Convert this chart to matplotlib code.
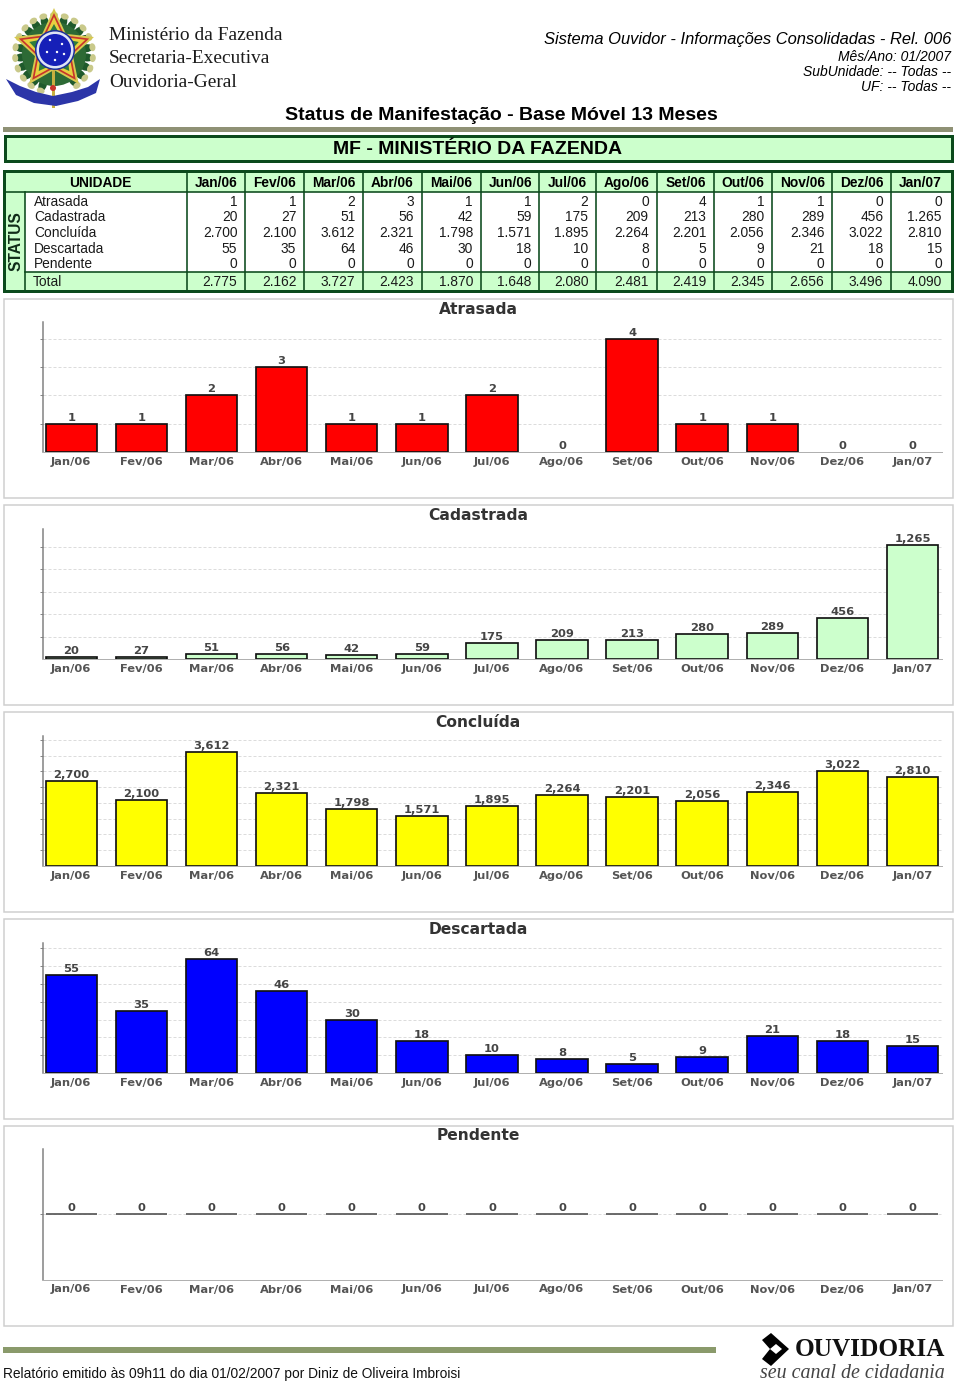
import numpy as np
import matplotlib
matplotlib.use("Agg")
import matplotlib.pyplot as plt
from matplotlib.patches import Rectangle, Polygon, Circle, Ellipse

months = ["Jan/06", "Fev/06", "Mar/06", "Abr/06", "Mai/06", "Jun/06", "Jul/06",
          "Ago/06", "Set/06", "Out/06", "Nov/06", "Dez/06", "Jan/07"]
status_names = ["Atrasada", "Cadastrada", "Concluída", "Descartada", "Pendente"]
atrasada = [1, 1, 2, 3, 1, 1, 2, 0, 4, 1, 1, 0, 0]
cadastrada = [20, 27, 51, 56, 42, 59, 175, 209, 213, 280, 289, 456, 1265]
concluida = [2700, 2100, 3612, 2321, 1798, 1571, 1895, 2264, 2201, 2056, 2346, 3022, 2810]
descartada = [55, 35, 64, 46, 30, 18, 10, 8, 5, 9, 21, 18, 15]
pendente = [0] * 13
totals = [2775, 2162, 3727, 2423, 1870, 1648, 2080, 2481, 2419, 2345, 2656, 3496, 4090]

W, H = 960, 1382
fig = plt.figure(figsize=(W / 100, H / 100), dpi=100, facecolor="white")
bg = fig.add_axes([0, 0, 1, 1])
bg.set_xlim(0, W)
bg.set_ylim(H, 0)
bg.axis("off")

SANS = "Liberation Sans"
SERIF = "Liberation Serif"
GREEN = "#0b4a1c"
LIGHT = "#ccffcc"
px = 0.72  # points per pixel at dpi 100


def T(x, y, s, size, ha="left", **kw):
    kw.setdefault("family", SANS)
    kw.setdefault("color", "black")
    return bg.text(x, y, s, fontsize=size * px, ha=ha, va="center", **kw)


def star(cx, cy, R, r=None, rot=-90):
    r = R * 0.42 if r is None else r
    a = np.radians(rot + np.arange(10) * 36)
    rad = np.where(np.arange(10) % 2 == 0, R, r)
    return np.c_[cx + rad * np.cos(a), cy + rad * np.sin(a)]


# ---------- emblem (decorative) ----------
cx, cy = 54, 50
for ang in np.arange(110, 430, 16):
    a = np.radians(ang)
    for rr, c in ((33, "#1f5a2c"), (39, "#c9c98a")):
        bg.add_patch(Ellipse((cx + rr * np.cos(a), cy + 4 + rr * np.sin(a)), 13 if rr == 33 else 6, 8,
                             angle=ang, color=c, lw=0, zorder=2))
bg.add_patch(Circle((cx, cy + 4), 32, color="#2d6a35", lw=0, zorder=2))
bg.add_patch(Rectangle((52, 60), 3, 48, color="#c8b040", lw=0, zorder=2))
bg.add_patch(Polygon(star(cx, cy, 42, 20), color="#d8c850", lw=0, zorder=3))
bg.add_patch(Polygon(star(cx, cy, 37, 18), color="#c9352a", lw=0, zorder=3))
bg.add_patch(Polygon(star(cx, cy, 33, 16), color="#e8d040", lw=0, zorder=3))
bg.add_patch(Polygon(star(cx, cy, 26, 14), color="#2f7d3b", lw=0, zorder=3))
bg.add_patch(Circle((55, 50), 20, color="#1b2f9a", lw=0, zorder=4))
bg.add_patch(Circle((55, 50), 18.5, color="#dfe4f5", lw=0, zorder=4))
bg.add_patch(Circle((55, 50), 16, color="#1620b8", lw=0, zorder=4))
for sx, sy in ((50, 40), (62, 44), (57, 52), (47, 52), (55, 60), (64, 54)):
    bg.add_patch(Circle((sx, sy), 1.2, color="white", lw=0, zorder=5))
bg.add_patch(Polygon([(6, 79), (20, 86), (36, 92), (53, 96), (72, 92), (88, 87), (100, 79),
                      (96, 93), (78, 101), (56, 106), (34, 103), (16, 95)],
                     color="#2c35a8", lw=0, zorder=5))
bg.add_patch(Circle((53, 88), 3, color="#c9352a", lw=0, zorder=6))

# ---------- heading ----------
for y, s in ((35, "Ministério da Fazenda"), (58, "Secretaria-Executiva"), (82, "Ouvidoria-Geral")):
    T(109, y, s, 19.4, family=SERIF, color="#1c1c1c")
T(951, 39, "Sistema Ouvidor - Informações Consolidadas - Rel. 006", 16.55, ha="right", style="italic")
T(951, 56.7, "Mês/Ano: 01/2007", 13.9, ha="right", style="italic")
T(951, 71.7, "SubUnidade: -- Todas --", 13.9, ha="right", style="italic")
T(951, 87, "UF: -- Todas --", 13.9, ha="right", style="italic")
T(501, 115, "Status de Manifestação - Base Móvel 13 Meses", 19.5, ha="center", weight="bold")
bg.add_patch(Rectangle((3, 127), 950, 5, color="#8f9175", lw=0))
bg.add_patch(Rectangle((4.5, 136), 947, 24.5, fc=LIGHT, ec=GREEN, lw=3 * px))
T(478, 149.5, "MF - MINISTÉRIO DA FAZENDA", 19.5, ha="center", weight="bold")

# ---------- table ----------
seps = [187, 245.3, 304.3, 363.3, 421.7, 481, 539.3, 596.3, 656.7, 714.3, 772.3, 832.3, 891.3, 950]
row_y = [201.7, 217.2, 232.7, 248.7, 264.2]
bg.add_patch(Rectangle((4, 171), 947.5, 120, fc="white", ec="none"))
bg.add_patch(Rectangle((4, 171), 947.5, 21, fc=LIGHT, ec="none"))
bg.add_patch(Rectangle((4, 192), 20.5, 99, fc=LIGHT, ec="none"))
bg.add_patch(Rectangle((24.5, 272), 927, 19, fc=LIGHT, ec="none"))
bg.plot([4, 951.5], [192, 192], color=GREEN, lw=1.6 * px)
bg.plot([24.5, 951.5], [272, 272], color=GREEN, lw=1.6 * px)
bg.plot([24.5, 24.5], [192, 291], color=GREEN, lw=1.6 * px)
for s in seps[:-1]:
    bg.plot([s, s], [171, 291], color=GREEN, lw=1.6 * px)
bg.add_patch(Rectangle((4, 171), 947.5, 120, fc="none", ec=GREEN, lw=3 * px))

T(100, 182.5, "UNIDADE", 13.7, ha="center", weight="bold")
T(16, 241, "STATUS", 15.5, ha="center", weight="bold", rotation=90, color="#102c18")


def fmt(v, sep="."):
    return f"{v:,}".replace(",", sep)


series = [atrasada, cadastrada, concluida, descartada, pendente]
for j, m in enumerate(months):
    T((seps[j] + seps[j + 1]) / 2, 182.5, m, 13.7, ha="center", weight="bold")
    right = seps[j + 1] - 8
    for y, vals in zip(row_y, series):
        T(right, y, fmt(vals[j]), 13.7, ha="right", color="#1a1a1a")
    T(right, 282, fmt(totals[j]), 13.7, ha="right", color="#1a1a1a")
for y, n in zip(row_y, status_names):
    T(34, y, n, 13.7, color="#1a1a1a")
T(32.5, 282, "Total", 13.7, color="#1a1a1a")

# ---------- charts ----------
panels = [
    ("Atrasada", atrasada, "#ff0000", 299, 498, 322, 452, (0, 4.6), [1, 2, 3, 4]),
    ("Cadastrada", cadastrada, "#ccffcc", 505, 705, 529, 659, (0, 1446), [250, 500, 750, 1000, 1250]),
    ("Concluída", concluida, "#ffff00", 712, 912, 736, 866, (0, 4120), [500, 1000, 1500, 2000, 2500, 3000, 3500, 4000]),
    ("Descartada", descartada, "#0000ff", 919, 1119, 943, 1073, (0, 73), [10, 20, 30, 40, 50, 60, 70]),
    ("Pendente", pendente, "#dddddd", 1126, 1326, 1149, 1279.5, (-1, 1), [0]),
]
AX_L, AX_R = 43, 942
x = np.arange(13)
for title, vals, color, by0, by1, top, base, ylim, ticks in panels:
    bg.add_patch(Rectangle((3.5, by0), 949.5, by1 - by0, fc="white", ec="#cfcfcf", lw=1.5 * px))
    T(478, by0 + 10, title, 15.5, ha="center", family="DejaVu Sans", weight="bold", color="#333333")
    ax = fig.add_axes([AX_L / W, 1 - base / H, (AX_R - AX_L) / W, (base - top) / H])
    ax.patch.set_alpha(0)
    ax.set_xlim(-0.404, 12.42)
    ax.set_ylim(*ylim)
    ax.set_axisbelow(True)
    ax.yaxis.grid(True, color="#dcdcdc", lw=1 * px, ls=(0, (3, 2)))
    # a zero bar sitting on the baseline leaves no outline; a zero bar in mid-plot shows as a line
    widths = [0 if v == ylim[0] else 1.7 * px for v in vals]
    ax.bar(x, vals, width=0.735, color=color, edgecolor="#111111" if title != "Pendente" else "#555555",
           linewidth=widths, zorder=3)
    for i, v in zip(x, vals):
        ax.annotate(fmt(v, ","), (i, v), xytext=(0, 1 * px), textcoords="offset points", ha="center",
                    va="bottom", fontsize=11.5 * px, family="DejaVu Sans", weight="bold", color="#444444",
                    zorder=4)
    for s in ("top", "right"):
        ax.spines[s].set_visible(False)
    ax.spines["left"].set_color("#808080")
    ax.spines["left"].set_linewidth(1.5 * px)
    ax.spines["bottom"].set_color("#b0b0b0")
    ax.spines["bottom"].set_linewidth(1 * px)
    ax.set_yticks(ticks)
    ax.set_yticklabels([])
    ax.tick_params(axis="y", length=3 * px, width=1 * px, color="#888888")
    ax.set_xticks(x)
    ax.set_xticklabels(months, fontsize=11.5 * px, family="DejaVu Sans", weight="bold", color="#555555")
    ax.tick_params(axis="x", length=0, pad=5 * px)

# ---------- footer ----------
bg.add_patch(Rectangle((3, 1347), 713, 6, color="#8a9a6b", lw=0))
T(3, 1374, "Relatório emitido às 09h11 do dia 01/02/2007 por Diniz de Oliveira Imbroisi", 13.8, color="#111111")
bg.add_patch(Polygon([(762, 1340), (771, 1333), (789, 1349), (771, 1366), (762, 1359), (770, 1349)],
                     color="black", lw=0))
bg.add_patch(Polygon([(770, 1349), (776, 1344), (782, 1349), (776, 1354)], color="white", lw=0))
T(795, 1350, "OUVIDORIA", 25.3, family=SERIF, weight="bold", color="#111111")
T(760, 1373, "seu canal de cidadania", 20, family=SERIF, style="italic", color="#444444")

fig.savefig("out.png", dpi=100, facecolor="white")
